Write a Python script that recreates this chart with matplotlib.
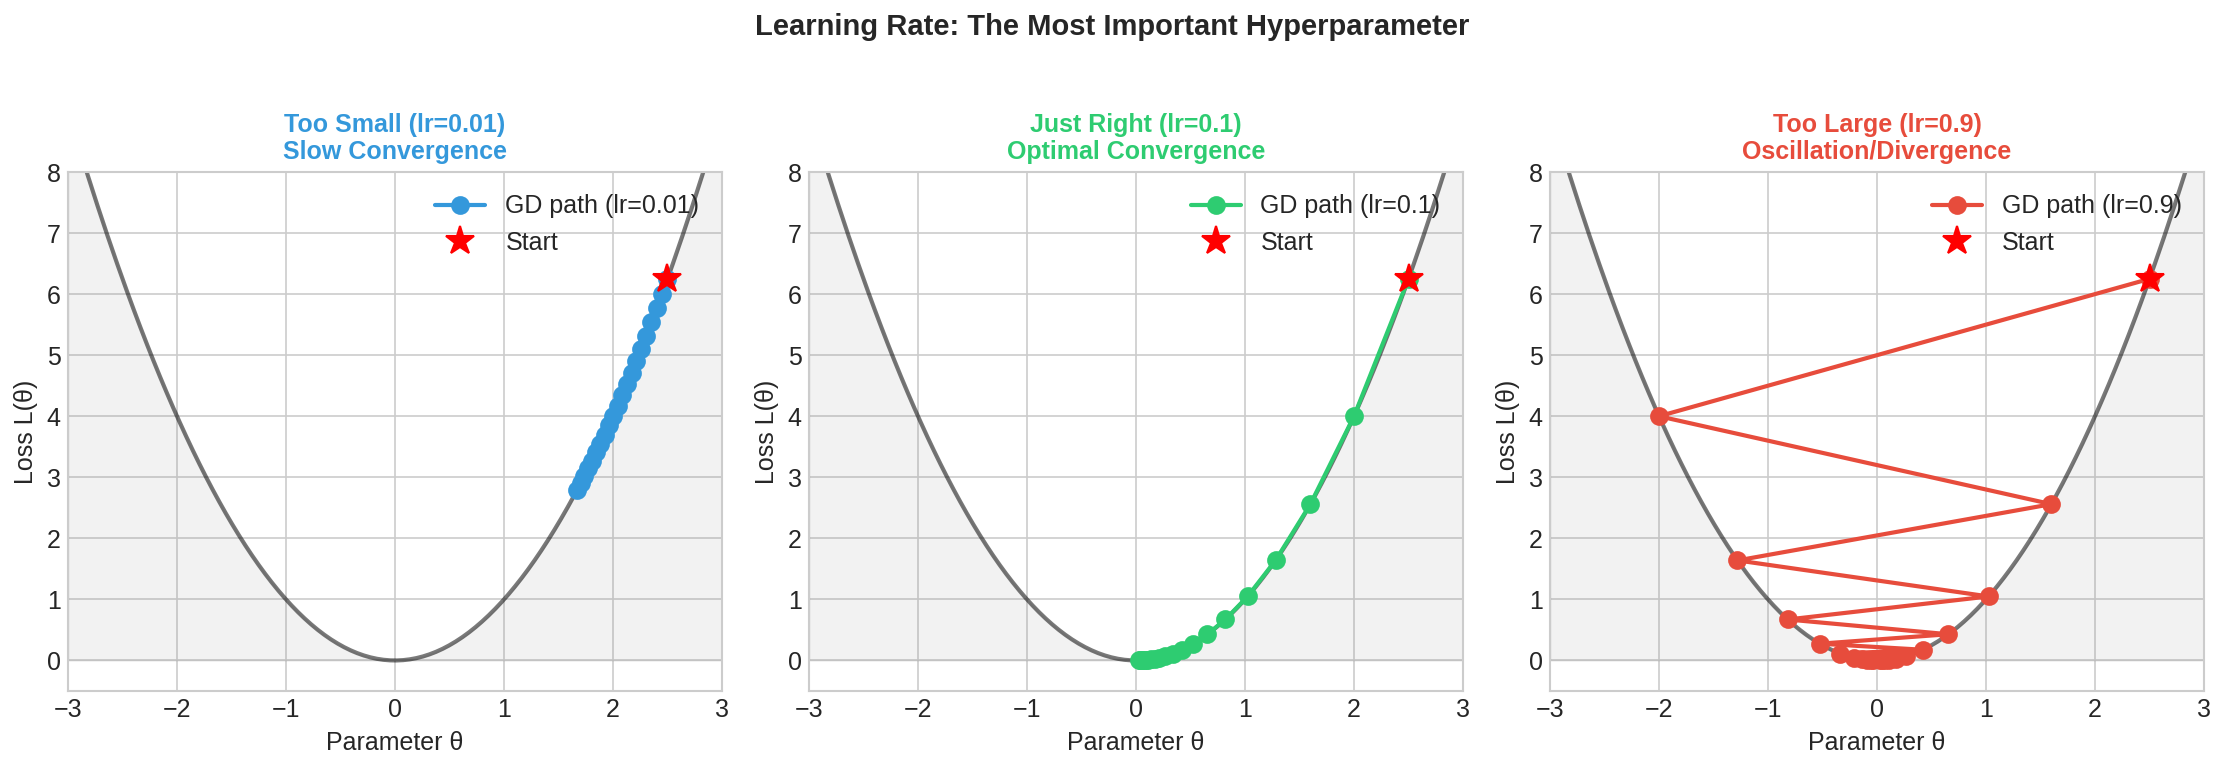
import matplotlib
matplotlib.use("Agg")
import matplotlib.pyplot as plt
import numpy as np

plt.style.use('seaborn-v0_8-whitegrid')
plt.rcParams['font.family'] = ['Liberation Sans', 'DejaVu Sans']

# GD paths (theta, loss)
theta_small = [2.5, 2.45, 2.401, 2.353, 2.3059, 2.2598, 2.2146, 2.1703, 2.1269, 2.0844,
               2.0427, 2.0018, 1.9618, 1.9226, 1.8841, 1.8464, 1.8095, 1.7733, 1.7378,
               1.7031, 1.6690]
loss_small = [6.25, 6.0025, 5.7648, 5.5365, 5.3173, 5.1067, 4.9045, 4.7102, 4.5237, 4.3446,
              4.1725, 4.0073, 3.8486, 3.6962, 3.5499, 3.4093, 3.2743, 3.1446, 3.0201,
              2.9005, 2.7856]

theta_right = [2.5, 2.0, 1.6, 1.28, 1.024, 0.8192, 0.6554, 0.5243, 0.4194, 0.3355, 0.2684,
               0.2147, 0.1718, 0.1374, 0.1100, 0.0880, 0.0704, 0.0563, 0.0450, 0.0360, 0.0288]
loss_right = [6.25, 4.0, 2.56, 1.6384, 1.0486, 0.6711, 0.4295, 0.2749, 0.1759, 0.1126, 0.0721,
              0.0461, 0.0295, 0.0189, 0.0121, 0.0077, 0.0050, 0.0032, 0.0020, 0.0013, 0.0008]

theta_large = [2.5, -2.0, 1.6, -1.28, 1.024, -0.8192, 0.6554, -0.5243, 0.4194, -0.3355, 0.2684,
               -0.2147, 0.1718, -0.1374, 0.1100, -0.0880, 0.0704, -0.0563, 0.0450, -0.0360, 0.0288]
loss_large = [6.25, 4.0, 2.56, 1.6384, 1.0486, 0.6711, 0.4295, 0.2749, 0.1759, 0.1126, 0.0721,
              0.0461, 0.0295, 0.0189, 0.0121, 0.0077, 0.0050, 0.0032, 0.0020, 0.0013, 0.0008]

learning_rates = ['0.01', '0.1', '0.9']
titles = ['Too Small (lr=0.01)\nSlow Convergence',
          'Just Right (lr=0.1)\nOptimal Convergence',
          'Too Large (lr=0.9)\nOscillation/Divergence']
colors = ['#3498db', '#2ecc71', '#e74c3c']
paths = [(theta_small, loss_small), (theta_right, loss_right), (theta_large, loss_large)]

# loss function L(theta) = theta^2
theta_grid = np.linspace(-3, 3, 200)
loss_grid = theta_grid ** 2

W, H = 2225, 767
fig = plt.figure(figsize=(W / 150, H / 150), dpi=150)
lefts = [68, 809, 1550]
axes = [fig.add_axes([l / W, 1 - 691 / H, 654 / W, (691 - 172) / H]) for l in lefts]

for ax, (th, ls), lr, title, c in zip(axes, paths, learning_rates, titles, colors):
    ax.plot(theta_grid, loss_grid, color='black', alpha=0.52, linewidth=2)
    ax.fill_between(theta_grid, loss_grid, color='gray', alpha=0.1)
    ax.plot(th, ls, 'o-', color=c, linewidth=2, markersize=8, label=f'GD path (lr={lr})')
    ax.plot(th[0], ls[0], '*', color='red', markersize=14, label='Start', zorder=5)
    ax.set_xlim(-3, 3)
    ax.set_ylim(-0.5, 8)
    ax.set_xlabel('Parameter θ', fontsize=12)
    ax.set_ylabel('Loss L(θ)', fontsize=12)
    ax.set_title(title, fontsize=12, fontweight='bold', color=c)
    ax.tick_params(labelsize=12)
    ax.legend(fontsize=12, loc='upper right')

fig.suptitle('Learning Rate: The Most Important Hyperparameter', fontsize=14,
             fontweight='bold', y=1 - 27 / H, va='center')
fig.savefig('out.png', dpi=150)
